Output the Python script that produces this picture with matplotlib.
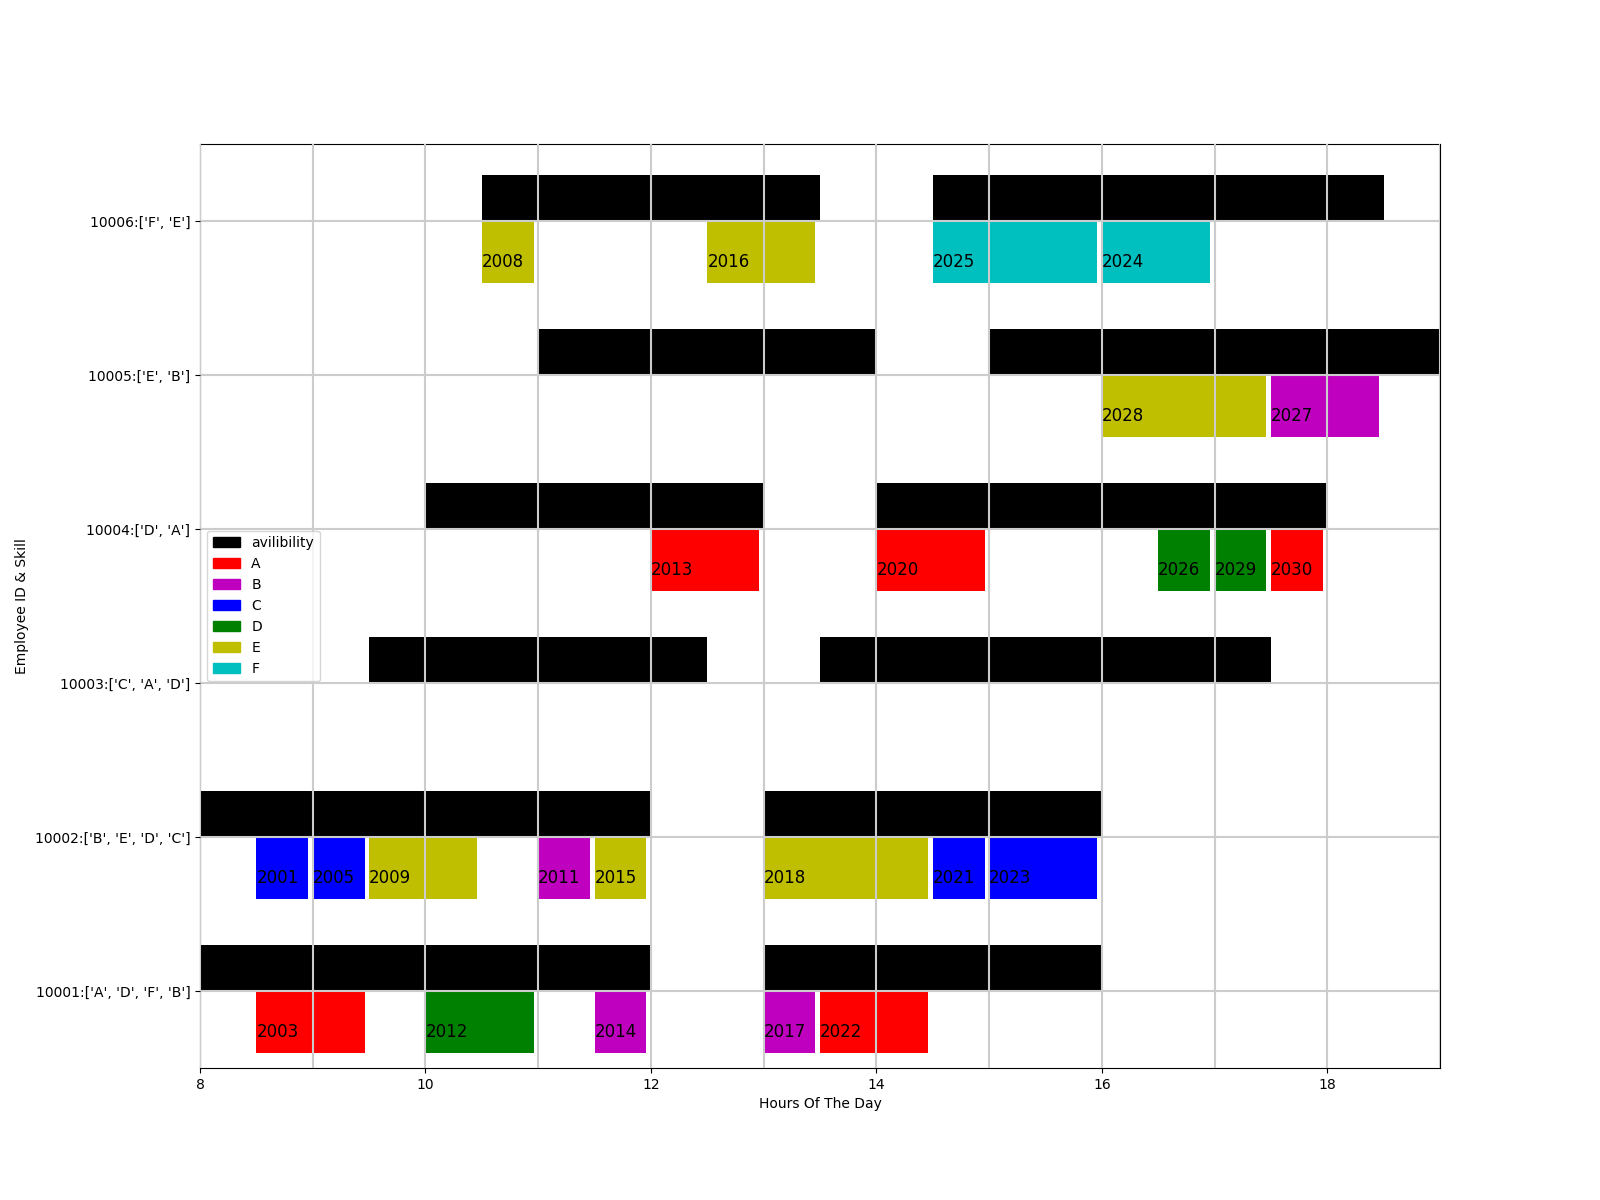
import matplotlib
matplotlib.use('Agg')
import matplotlib.pyplot as plt
import matplotlib.patches as mpatches
from matplotlib.ticker import MultipleLocator

# Data
Employees = ['10001', '10002', '10003', '10004', '10005', '10006']
Skills = [['A', 'D', 'F', 'B'], ['B', 'E', 'D', 'C'], ['C', 'A', 'D'],
          ['D', 'A'], ['E', 'B'], ['F', 'E']]

# availability windows (start hour, end hour)
Availability = [
    [(8, 12), (13, 16)],
    [(8, 12), (13, 16)],
    [(9.5, 12.5), (13.5, 17.5)],
    [(10, 13), (14, 18)],
    [(11, 14), (15, 19)],
    [(10.5, 13.5), (14.5, 18.5)],
]

# tasks: (task id, skill, start hour, end hour)
Tasks = [
    [(2003, 'A', 8.5, 9.5), (2012, 'D', 10, 11), (2014, 'B', 11.5, 12),
     (2017, 'B', 13, 13.5), (2022, 'A', 13.5, 14.5)],
    [(2001, 'C', 8.5, 9), (2005, 'C', 9, 9.5), (2009, 'E', 9.5, 10.5),
     (2011, 'B', 11, 11.5), (2015, 'E', 11.5, 12), (2018, 'E', 13, 14.5),
     (2021, 'C', 14.5, 15), (2023, 'C', 15, 16)],
    [],
    [(2013, 'A', 12, 13), (2020, 'A', 14, 15), (2026, 'D', 16.5, 17),
     (2029, 'D', 17, 17.5), (2030, 'A', 17.5, 18)],
    [(2028, 'E', 16, 17.5), (2027, 'B', 17.5, 18.5)],
    [(2008, 'E', 10.5, 11), (2016, 'E', 12.5, 13.5), (2025, 'F', 14.5, 16),
     (2024, 'F', 16, 17)],
]

SkillColors = {'A': 'r', 'B': 'm', 'C': 'b', 'D': 'g', 'E': 'y', 'F': 'c'}

# Plot
fig, ax = plt.subplots(figsize=(16, 12), dpi=100)

for i, emp in enumerate(Employees):
    y = (i + 1) * 10
    ax.broken_barh([(s, e - s) for s, e in Availability[i]], (y, 3), facecolors='k')
    for tid, sk, s, e in Tasks[i]:
        ax.broken_barh([(s, e - s - 0.04)], (y - 4, 3.92), facecolors=SkillColors[sk])
        ax.text(s, y - 3, str(tid), fontsize=12)

ax.set_ylim(5, 65)
ax.set_xlim(8, 19)
ax.set_yticks([(i + 1) * 10 for i in range(len(Employees))])
ax.set_yticklabels([e + ':' + str(s) for e, s in zip(Employees, Skills)])
ax.xaxis.set_minor_locator(MultipleLocator(1))
ax.tick_params(axis='x', which='minor', length=0)
ax.set_axisbelow(False)
ax.grid(True, which='both', color='#cccccc', linewidth=1.5)

ax.set_xlabel('Hours Of The Day')
ax.set_ylabel('Employee ID & Skill')

handles = [mpatches.Patch(color='k', label='avilibility')]
for sk in ['A', 'B', 'C', 'D', 'E', 'F']:
    handles.append(mpatches.Patch(color=SkillColors[sk], label=sk))
ax.legend(handles=handles, loc='center left')

plt.savefig('out.png')
